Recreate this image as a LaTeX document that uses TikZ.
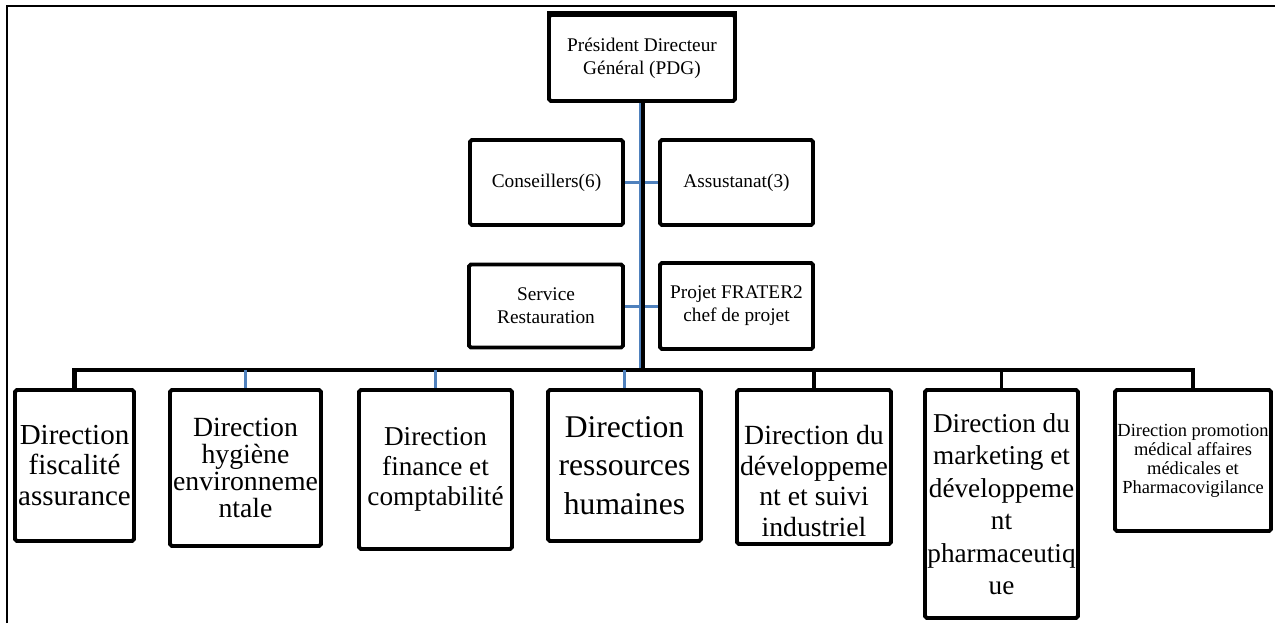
\documentclass[tikz,border=0pt]{standalone}
\usepackage{fontspec}
\setmainfont{Liberation Serif}
\usepackage{xcolor}
\usepackage{tikz}
\usetikzlibrary{positioning}

\definecolor{linkblue}{RGB}{79,129,189}

\begin{document}
\begin{tikzpicture}[
    x=0.02cm, y=-0.02cm,
    box/.style={draw, line width=2.2pt, rounded corners=1pt, align=center, inner sep=0.5pt, fill=white},
    small/.style={box, font=\fontsize{11}{13}\selectfont},
    dir/.style={box},
    side/.style={linkblue, line width=1.7pt},
    busline/.style={line width=2.8pt},
    drop/.style={line width=2.2pt},
]

% --- Frame ---
\useasboundingbox (0,0) rectangle (1275,623);
\draw[line width=1.4pt] (7,623) -- (7,6) -- (1275,6);

% --- Top: PDG ---
\node[small, minimum width=3.72cm, minimum height=1.72cm] (pdg) at (642,58) {Président Directeur\\Général (PDG)};
\draw[line width=3.5pt] ([yshift=-0.6pt]pdg.north west) -- ([yshift=-0.6pt]pdg.north east);

% --- Staff boxes beside the trunk ---
\node[small, minimum width=3.06cm, minimum height=1.70cm] (cons) at (546.5,182.5) {Conseillers(6)};
\node[small, minimum width=3.06cm, minimum height=1.70cm] (assu) at (736.5,182.5) {Assustanat(3)};
\node[small, minimum width=3.08cm, minimum height=1.66cm] (serv) at (546,306) {Service\\Restauration};
\node[small, minimum width=3.06cm, minimum height=1.72cm] (proj) at (736.5,306) {Projet FRATER2\\chef de projet};

% --- Directions ---
\node[dir, minimum width=2.38cm, minimum height=3.02cm, font=\fontsize{16.5}{17.6}\selectfont] (d1) at (74.5,465.5) {Direction\\fiscalité\\assurance};
\node[dir, minimum width=3.02cm, minimum height=3.12cm, font=\fontsize{15.8}{15.3}\selectfont] (d2) at (245.5,468) {Direction\\hygiène\\environneme\\ntale};
\node[dir, minimum width=3.06cm, minimum height=3.18cm, font=\fontsize{15.5}{17}\selectfont] (d3) at (435.5,469.5) {Direction\\finance et\\comptabilité};
\node[dir, minimum width=3.06cm, minimum height=3.02cm, font=\fontsize{18}{22}\selectfont] (d4) at (624.5,465.5) {Direction\\ressources\\humaines};
\node[dir, minimum width=3.08cm, minimum height=3.08cm, font=\fontsize{15.8}{17.5}\selectfont] (d5) at (814,467) {\rule{0pt}{27pt}Direction du\\développeme\\nt et suivi\\industriel};
\node[dir, minimum width=3.06cm, minimum height=4.56cm, font=\fontsize{15.5}{18.5}\selectfont] (d6) at (1001.5,504) {Direction du\\marketing et\\développeme\\nt\\pharmaceutiq\\ue};
\node[dir, minimum width=3.12cm, minimum height=2.82cm, font=\fontsize{10.5}{10.8}\selectfont] (d7) at (1193,460.5) {Direction promotion\\médical affaires\\médicales et\\Pharmacovigilance};

% --- Connections ---
\coordinate (bus) at (642,370);
\draw[side] (cons) -- (assu);
\draw[side] (serv) -- (proj);
\draw[linkblue, line width=3.4pt] (pdg.south) -- (bus);
\draw[line width=2.3pt] ([xshift=0.7pt]pdg.south) -- ([xshift=0.7pt]bus);
\draw[busline] (d1.north) |- (bus) -| (d7.north);
\foreach \d/\c in {d2/linkblue, d3/linkblue, d4/linkblue, d5/black, d6/black} {
    \draw[drop, \c] (\d.north) -- (\d.north |- bus);
}

\end{tikzpicture}
\end{document}
